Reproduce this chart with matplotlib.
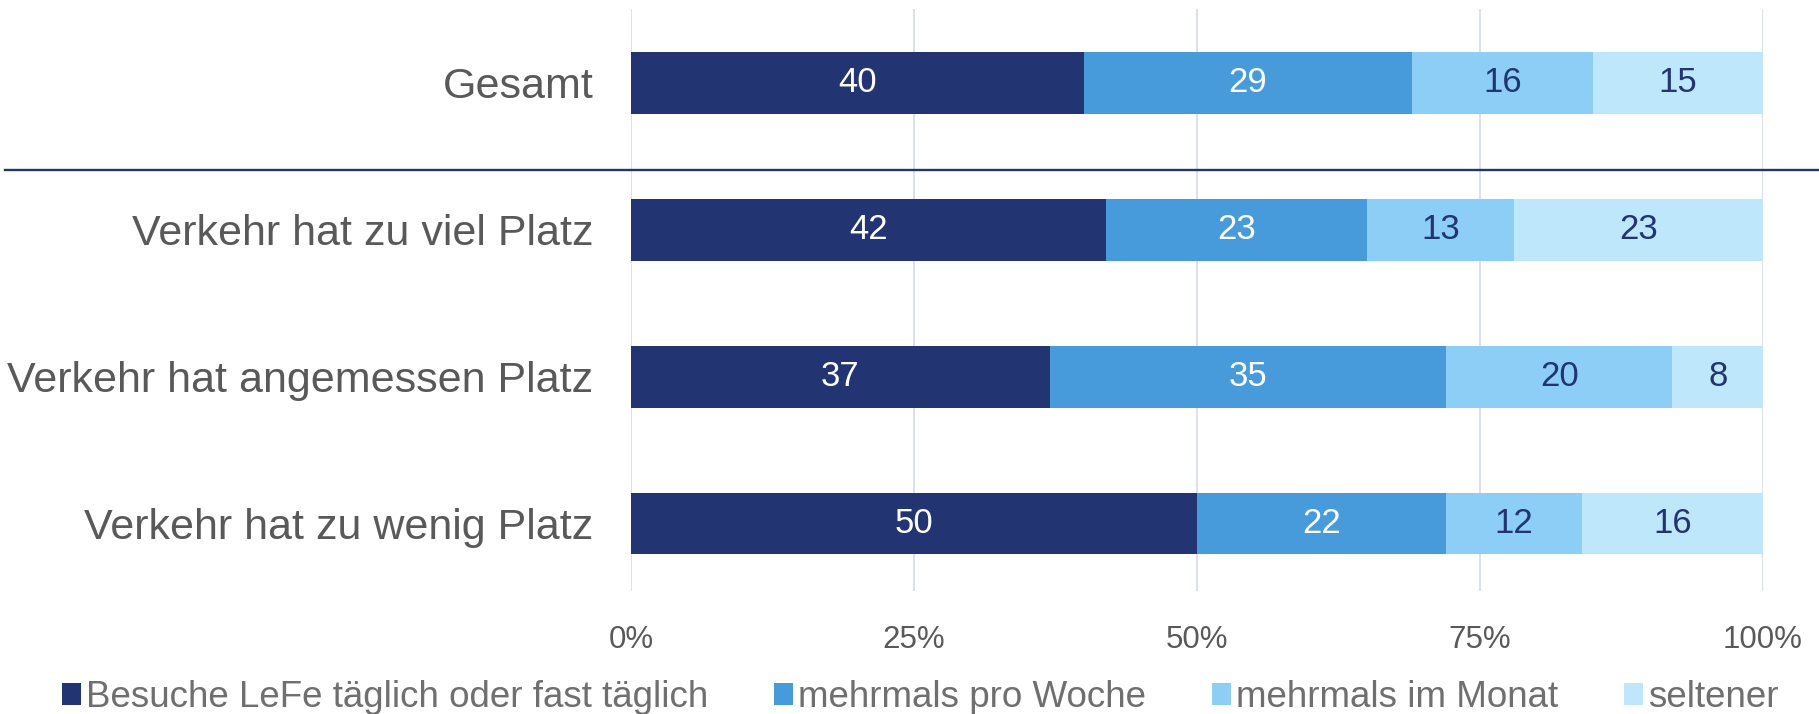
import numpy as np
import matplotlib.pyplot as plt
from matplotlib.lines import Line2D

plt.rcParams['font.family'] = ['Liberation Sans', 'DejaVu Sans']

# Daten
groups = ['Gesamt', 'Verkehr hat zu viel Platz', 'Verkehr hat angemessen Platz', 'Verkehr hat zu wenig Platz']
series_names = ['Besuche LeFe täglich oder fast täglich', 'mehrmals pro Woche', 'mehrmals im Monat', 'seltener']
daily = [40, 42, 37, 50]
weekly = [29, 23, 35, 22]
monthly = [16, 13, 20, 12]
rarely = [15, 23, 8, 16]
x_ticks = [0, 25, 50, 75, 100]
x_tick_labels = ['0%', '25%', '50%', '75%', '100%']

colors = ['#233472', '#479BDB', '#8DCEF6', '#BEE7FB']
label_colors = ['white', 'white', '#233472', '#233472']


def main():
    fig = plt.figure(figsize=(18.19, 7.14), dpi=100)
    ax = fig.add_axes([0.3469, 0.172, 0.9692 - 0.3469, 0.987 - 0.172])

    y = np.arange(len(groups))
    left = np.zeros(len(groups))
    for values, name, color, lc in zip([daily, weekly, monthly, rarely], series_names, colors, label_colors):
        bars = ax.barh(y, values, 0.42, left=left, color=color, label=name, zorder=3)
        ax.bar_label(bars, labels=[str(v) for v in values], label_type='center',
                     color=lc, fontsize=25)
        left += np.asarray(values)

    ax.set_xlim(0, 100)
    ax.set_ylim(3.46, -0.5)
    ax.set_xticks(x_ticks)
    ax.set_xticklabels(x_tick_labels)
    ax.set_yticks(y)
    ax.set_yticklabels(groups)
    ax.tick_params(axis='x', length=0, pad=24.5, labelsize=22.5, labelcolor='#595959')
    ax.tick_params(axis='y', length=0, pad=27, labelsize=31, labelcolor='#595959')
    ax.grid(axis='x', color='#D9DCEE', linewidth=1.3, zorder=0)
    for spine in ax.spines.values():
        spine.set_visible(False)

    # Trennlinie unter "Gesamt"
    fig.add_artist(Line2D([0.003, 1.0], [0.762, 0.762], transform=fig.transFigure,
                          color='#233472', linewidth=1.7))

    fig.legend(loc='center', bbox_to_anchor=(0.506, 0.023), ncol=4, frameon=False,
               fontsize=26.5, labelcolor='#6F6F6F', handlelength=0.52, handleheight=0.52,
               handletextpad=0.14, columnspacing=1.78, borderpad=0)

    fig.savefig('out.png', dpi=100)


if __name__ == '__main__':
    main()
